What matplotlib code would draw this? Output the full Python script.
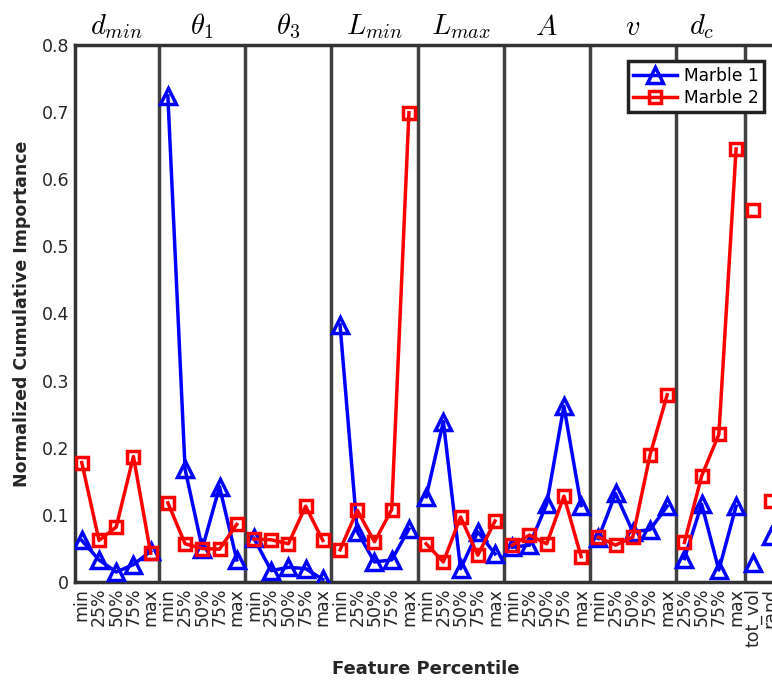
import numpy as np
import matplotlib
matplotlib.use('Agg')
import matplotlib.pyplot as plt

plt.rcParams['mathtext.fontset'] = 'cm'
plt.rcParams['font.family'] = ['DejaVu Sans']

# feature groups (name, tick labels)
features = ['$d_{min}$', r'$\theta_1$', r'$\theta_3$', '$L_{min}$', '$L_{max}$', '$A$', '$v$', '$d_c$']
pct = ['min', '25%', '50%', '75%', 'max']
group_ticks = [pct, pct, pct, pct, pct, pct, pct, ['25%', '50%', '75%', 'max'], ['tot_vol'], ['rand']]

marble1 = [
    [0.062, 0.033, 0.015, 0.026, 0.046],   # d_min
    [0.724, 0.168, 0.050, 0.142, 0.033],   # theta_1
    [0.065, 0.017, 0.022, 0.020, 0.004],   # theta_3
    [0.383, 0.075, 0.030, 0.033, 0.079],   # L_min
    [0.127, 0.239, 0.020, 0.075, 0.042],   # L_max
    [0.052, 0.055, 0.116, 0.262, 0.114],   # A
    [0.065, 0.132, 0.075, 0.078, 0.113],   # v
    [0.035, 0.116, 0.018, 0.113],          # d_c
    [0.029],                               # tot_vol
    [0.068],                               # rand
]
marble2 = [
    [0.178, 0.062, 0.082, 0.187, 0.043],
    [0.118, 0.057, 0.050, 0.049, 0.086],
    [0.064, 0.063, 0.057, 0.113, 0.062],
    [0.048, 0.107, 0.060, 0.108, 0.699],
    [0.057, 0.030, 0.097, 0.040, 0.091],
    [0.055, 0.070, 0.057, 0.128, 0.038],
    [0.067, 0.055, 0.067, 0.189, 0.279],
    [0.059, 0.158, 0.220, 0.645],
    [0.554],
    [0.121],
]

fig = plt.figure(figsize=(7.72, 6.8), dpi=100)
ax = fig.add_axes([0.097, 0.144, 0.91, 0.79])

txt = '#262626'
sep = '#404040'

tick_labels = []
start = 0
for i, ticks in enumerate(group_ticks):
    n = len(ticks)
    xs = np.arange(start, start + n)
    ax.plot(xs, marble1[i], color='blue', marker='^', ms=11, mfc='none', mew=2.5, lw=2.5,
            label='Marble 1' if i == 0 else None, zorder=3)
    ax.plot(xs, marble2[i], color='red', marker='s', ms=8, mfc='none', mew=2.5, lw=2.5,
            label='Marble 2' if i == 0 else None, zorder=3)
    if i < len(features):
        ax.text(start + 2 if n == 5 else start + 1, 0.806, features[i], ha='center', va='bottom',
                fontsize=20.5, color='black')
    if i < 8:
        ax.axvline(start + n - 0.5, color=sep, lw=2.5, zorder=2)
    tick_labels += ticks
    start += n

ax.set_xticks(np.arange(len(tick_labels)))
ax.set_xticklabels(tick_labels, rotation=90, fontsize=12.5, color=txt)
ax.set_xlim(-0.4, start - 0.6)
ax.set_ylim(0, 0.8)
ax.set_yticks(np.arange(0, 0.81, 0.1))
ax.set_yticklabels(['0'] + ['%.1f' % v for v in np.arange(0.1, 0.81, 0.1)], fontsize=12.5, color=txt)
ax.tick_params(length=0, pad=4)
for s in ax.spines.values():
    s.set_linewidth(2.5)
    s.set_color('#333333')

ax.set_ylabel('Normalized Cumulative Importance', fontsize=12.5, fontweight='bold', color=txt, labelpad=8)
ax.set_xlabel('Feature Percentile', fontsize=13, fontweight='bold', color=txt, labelpad=10)

leg = ax.legend(loc='upper right', bbox_to_anchor=(0.993, 0.985), fontsize=12.3, numpoints=1,
                fancybox=False, framealpha=1, borderpad=0.3, handlelength=2.6,
                labelspacing=0.25, handletextpad=0.4)
leg.get_frame().set_edgecolor('#222222')
leg.get_frame().set_linewidth(2.5)

fig.savefig('out.png', dpi=100)
